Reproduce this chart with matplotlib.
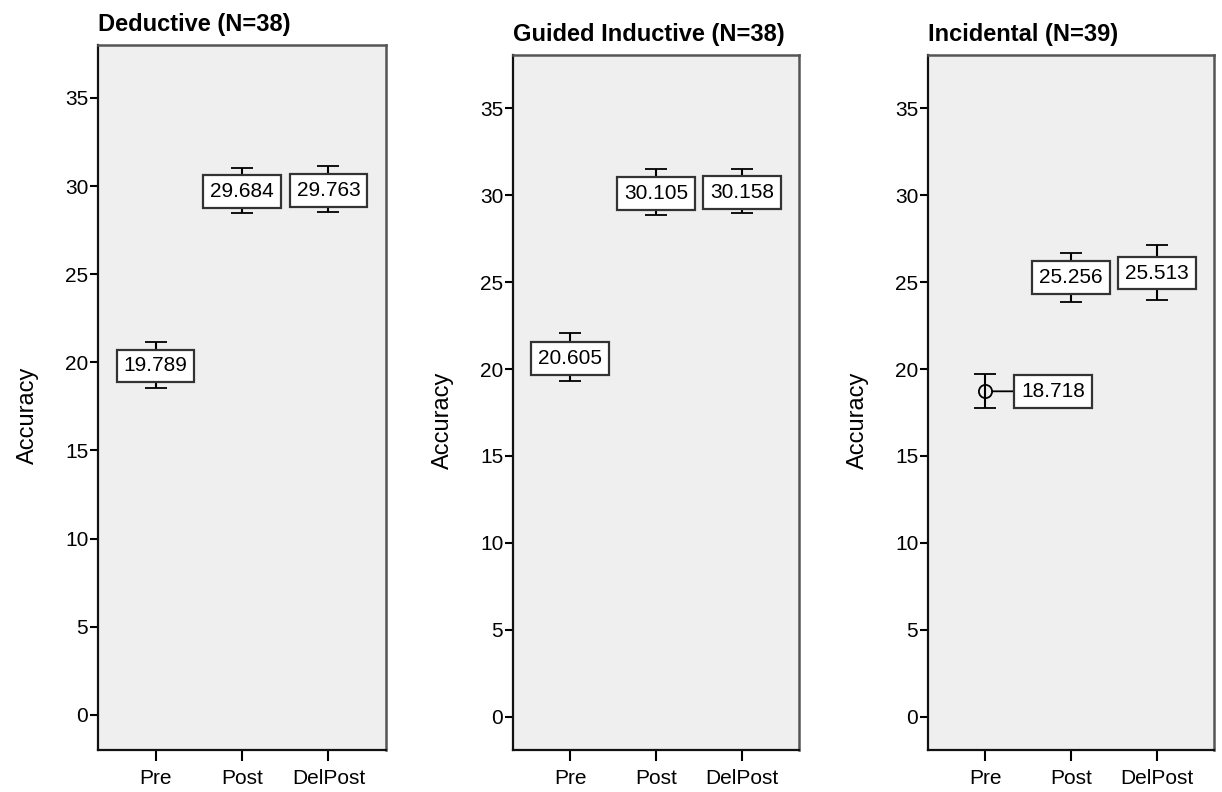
import matplotlib.pyplot as plt

plt.rcParams['font.family'] = ['Liberation Sans', 'DejaVu Sans']

times = ['Pre', 'Post', 'DelPost']

titles = ['Deductive (N=38)', 'Guided Inductive (N=38)', 'Incidental (N=39)']

ded_mean = [19.789, 29.684, 29.763]
ded_lo = [18.53, 28.46, 28.51]
ded_hi = [21.17, 31.03, 31.12]

gui_mean = [20.605, 30.105, 30.158]
gui_lo = [19.32, 28.85, 28.98]
gui_hi = [22.05, 31.48, 31.48]

inc_mean = [18.718, 25.256, 25.513]
inc_lo = [17.76, 23.85, 23.95]
inc_hi = [19.72, 26.69, 27.11]

means = [ded_mean, gui_mean, inc_mean]
lows = [ded_lo, gui_lo, inc_lo]
highs = [ded_hi, gui_hi, inc_hi]

fig = plt.figure(figsize=(12.22, 7.92), dpi=100)
W, H = 1222, 792
# axes boxes in pixels: left, top, right, bottom
boxes = [(98, 45, 386, 750), (513, 55, 799, 750), (928, 55, 1214, 750)]
ylims = [(-2.0, 38.0), (-1.9, 38.05), (-1.9, 38.05)]

for i in range(3):
    l, t, r, b = boxes[i]
    ax = fig.add_axes([l / W, (H - b) / H, (r - l) / W, (b - t) / H])
    ax.set_facecolor('#efefef')
    x = [1, 2, 3]
    m = means[i]
    err = [[m[k] - lows[i][k] for k in range(3)],
           [highs[i][k] - m[k] for k in range(3)]]
    ax.errorbar(x, m, yerr=err, fmt='o', mfc='none', mec='black', ms=9.5,
                mew=1.3, ecolor='black', elinewidth=1.5, capsize=8,
                capthick=1.5, color='black', zorder=2)
    for k in range(3):
        box = dict(boxstyle='square,pad=0.33', fc='white', ec='#333333', lw=1.6)
        if i == 2 and k == 0:
            ax.annotate(f'{m[k]:.3f}', xy=(x[k], m[k]), xytext=(49, 0),
                        textcoords='offset points', ha='center', va='center',
                        fontsize=15, bbox=box, zorder=5,
                        arrowprops=dict(arrowstyle='-', color='black', lw=1.3,
                                        shrinkA=0, shrinkB=5))
        else:
            ax.text(x[k], m[k], f'{m[k]:.3f}', ha='center', va='center',
                    fontsize=15, bbox=box, zorder=5)

    ax.set_xlim(1 - 2 / 3, 3 + 2 / 3)
    ax.set_ylim(*ylims[i])
    ax.set_xticks(x)
    ax.set_xticklabels(times)
    ax.set_yticks([0, 5, 10, 15, 20, 25, 30, 35])
    ax.tick_params(axis='both', labelsize=15, width=1.5, direction='out')
    ax.tick_params(axis='y', length=6, pad=1)
    ax.tick_params(axis='x', length=8, pad=6)
    for side in ['left', 'bottom']:
        ax.spines[side].set_color('#111111')
        ax.spines[side].set_linewidth(1.6)
    for side in ['top', 'right']:
        ax.spines[side].set_color('#555555')
        ax.spines[side].set_linewidth(1.8)
    ax.set_ylabel('Accuracy', fontsize=17)
    ax.yaxis.set_label_coords(-0.205, 0.475)
    ax.set_title(titles[i], loc='left', fontsize=17, fontweight='bold', pad=10)

plt.savefig('out.png', dpi=100)
